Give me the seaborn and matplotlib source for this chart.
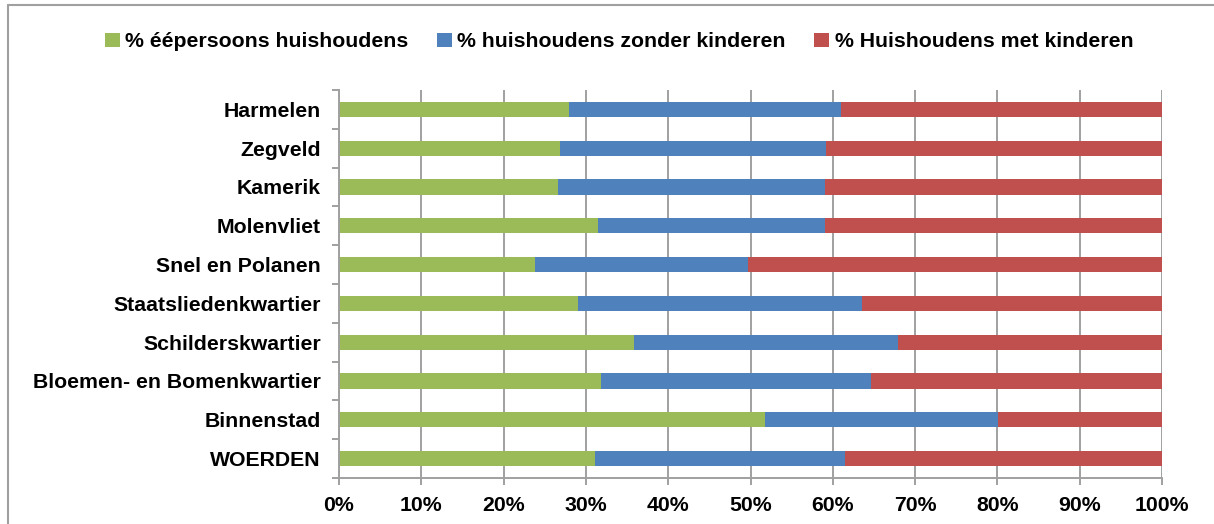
import matplotlib
matplotlib.use("Agg")
import matplotlib.pyplot as plt
from matplotlib.patches import Patch
from matplotlib.lines import Line2D
from matplotlib.ticker import FixedLocator, PercentFormatter
import numpy as np
import pandas as pd
import seaborn as sns

# wijken, van boven naar beneden
wijken = ['Harmelen', 'Zegveld', 'Kamerik', 'Molenvliet', 'Snel en Polanen',
          'Staatsliedenkwartier', 'Schilderskwartier', 'Bloemen- en Bomenkwartier',
          'Binnenstad', 'WOERDEN']

eenpersoons = [28.0, 26.9, 26.6, 31.5, 23.8, 29.1, 35.9, 31.8, 51.8, 31.1]
zonder_kinderen = [33.0, 32.3, 32.5, 27.6, 25.9, 34.4, 32.0, 32.9, 28.3, 30.4]
met_kinderen = [39.0, 40.8, 40.9, 40.9, 50.3, 36.5, 32.1, 35.3, 19.9, 38.5]

series_names = ['% éépersoons huishoudens', '% huishoudens zonder kinderen',
                '% Huishoudens met kinderen']
kleuren = ['#9BBB59', '#4F81BD', '#C0504D']

df = pd.DataFrame({'wijk': wijken,
                   'een': eenpersoons,
                   'zonder': zonder_kinderen,
                   'met': met_kinderen})
df['cum1'] = df['een']
df['cum2'] = df['een'] + df['zonder']
df['cum3'] = df['cum2'] + df['met']

sns.set_theme(style='white')
plt.rcParams['font.family'] = ['Liberation Sans', 'DejaVu Sans']
plt.rcParams['font.weight'] = 'bold'
plt.rcParams['text.color'] = 'black'
plt.rcParams['xtick.labelcolor'] = 'black'
plt.rcParams['ytick.labelcolor'] = 'black'

fs = 15.3

fig = plt.figure(figsize=(12.14, 5.24), dpi=100)
ax = fig.add_axes([339 / 1214, 46 / 524, 823 / 1214, 388 / 524])

# gestapelde balken: eerst totaal, dan de kleinere sommen erover
for col, kleur in zip(['cum3', 'cum2', 'cum1'], kleuren[::-1]):
    sns.barplot(data=df, x=col, y='wijk', order=wijken, orient='h',
                color=kleur, width=0.39, linewidth=0, saturation=1, ax=ax)

ax.set_xlim(0, 100)
ax.set_ylim(len(wijken) - 0.5, -0.5)
ax.set_xlabel('')
ax.set_ylabel('')

# assen en rasterlijnen
ax.set_axisbelow(True)
ax.set_xticks(np.arange(0, 101, 10))
ax.xaxis.set_major_formatter(PercentFormatter(decimals=0))
ax.grid(axis='x', color='#A0A0A0', linewidth=1.4)
ax.grid(axis='y', visible=False)
for s in ['top', 'right']:
    ax.spines[s].set_visible(False)
for s in ['left', 'bottom']:
    ax.spines[s].set_color('#A0A0A0')
    ax.spines[s].set_linewidth(1.4)

ax.yaxis.set_minor_locator(FixedLocator(np.arange(-0.5, len(wijken), 1)))
ax.tick_params(axis='y', which='major', length=0, pad=13, labelsize=fs, labelcolor='black')
ax.tick_params(axis='y', which='minor', left=True, length=5, width=1.4, color='#A0A0A0')
ax.tick_params(axis='x', which='major', bottom=True, length=5, width=1.4,
               color='#A0A0A0', pad=8, labelsize=fs, labelcolor='black')
for lab in ax.get_xticklabels() + ax.get_yticklabels():
    lab.set_fontweight('bold')

# legenda bovenaan
handles = [Patch(facecolor=k, edgecolor='none') for k in kleuren]
leg = fig.legend(handles, series_names, loc='center', bbox_to_anchor=(0.51, 0.92),
                 ncol=3, frameon=False, handlelength=0.7, handleheight=0.7,
                 handletextpad=0.25, columnspacing=1.35,
                 prop={'size': fs, 'weight': 'bold'})
for t in leg.get_texts():
    t.set_color('black')

# kader rond de grafiek (rechts en onder buiten beeld)
fig.add_artist(Line2D([8 / 1214, 1], [1 - 5 / 524, 1 - 5 / 524],
                      transform=fig.transFigure, color='#A0A0A0', linewidth=1.5))
fig.add_artist(Line2D([8 / 1214, 8 / 1214], [0, 1 - 5 / 524],
                      transform=fig.transFigure, color='#A0A0A0', linewidth=1.5))

fig.savefig('out.png', dpi=100)
plt.close(fig)
